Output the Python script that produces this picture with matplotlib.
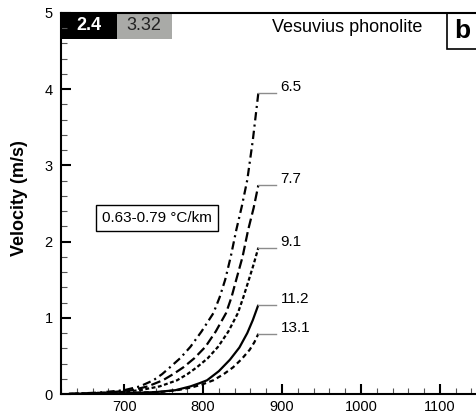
import matplotlib
matplotlib.use("Agg")
import matplotlib.pyplot as plt
from matplotlib.patches import Rectangle
from matplotlib.ticker import MultipleLocator

plt.rcParams['font.family'] = ['Liberation Sans', 'DejaVu Sans']
plt.rcParams['lines.scale_dashes'] = False

# Data (temperature in deg C, velocity in m/s)
labels = ["6.5", "7.7", "9.1", "11.2", "13.1"]
temp_65 = [630, 670, 700, 720, 737, 748, 758, 771, 784, 798, 813, 821, 828,
           835, 842, 849, 856, 863, 870]
vel_65 = [0.0, 0.02, 0.05, 0.10, 0.18, 0.26, 0.35, 0.47, 0.62, 0.82, 1.06,
          1.27, 1.50, 1.80, 2.15, 2.46, 2.81, 3.33, 3.95]
temp_77 = [630, 680, 710, 730, 749, 762, 775, 789, 803, 816, 829, 836, 842,
           850, 857, 864, 870]
vel_77 = [0.0, 0.02, 0.05, 0.10, 0.18, 0.26, 0.35, 0.47, 0.62, 0.82, 1.06,
          1.27, 1.50, 1.80, 2.15, 2.44, 2.74]
temp_91 = [630, 690, 720, 745, 767, 780, 792, 806, 819, 832, 844, 851, 858,
           864, 870]
vel_91 = [0.0, 0.02, 0.05, 0.10, 0.18, 0.26, 0.35, 0.47, 0.62, 0.82, 1.06,
          1.27, 1.50, 1.70, 1.92]
temp_112 = [630, 700, 740, 765, 784, 795, 805, 820, 834, 846, 856, 863, 870]
vel_112 = [0.0, 0.01, 0.025, 0.05, 0.10, 0.14, 0.18, 0.30, 0.45, 0.61, 0.80,
           0.97, 1.17]
temp_131 = [630, 700, 750, 770, 787, 800, 813, 826, 838, 849, 859, 865, 870]
vel_131 = [0.0, 0.01, 0.03, 0.055, 0.09, 0.13, 0.18, 0.26, 0.35, 0.46, 0.58,
           0.68, 0.79]

x_ticks = [700, 800, 900, 1000, 1100]
y_ticks = [0, 1, 2, 3, 4, 5]

series = [
    (temp_65, vel_65, (0, (6, 3, 1.5, 3))),
    (temp_77, vel_77, (0, (7, 3))),
    (temp_91, vel_91, (0, (2.8, 1.8))),
    (temp_112, vel_112, "-"),
    (temp_131, vel_131, (0, (3.5, 2.5))),
]

fig = plt.figure(figsize=(4.77, 4.15), dpi=100)
ax = fig.add_axes([61 / 477, 1 - 394 / 415, 416 / 477, 381 / 415])

for (t, v, ls), lab in zip(series, labels):
    ax.plot(t, v, color="black", lw=1.6, linestyle=ls, solid_capstyle="butt",
            solid_joinstyle="round")
    # gray leader and label at curve end
    ax.plot([t[-1], t[-1] + 22], [v[-1], v[-1]], color="#8c8c8c", lw=1.0)
    ax.text(t[-1] + 28, v[-1] + 0.08, lab, fontsize=11, va="center", ha="left")

ax.set_xlim(620, 1147)
ax.set_ylim(0, 5)
ax.set_xticks(x_ticks)
ax.set_yticks(y_ticks)
ax.xaxis.set_minor_locator(MultipleLocator(20))
ax.yaxis.set_minor_locator(MultipleLocator(0.2))
ax.tick_params(which="major", direction="in", length=7, width=1.5, labelsize=10.5)
ax.tick_params(which="minor", direction="in", length=4.5, width=0.8, color="#555555")
ax.tick_params(axis="x", pad=4)
ax.tick_params(axis="y", pad=6)
ax.spines["right"].set_visible(False)
for s in ["left", "bottom", "top"]:
    ax.spines[s].set_linewidth(1.5)

ax.set_ylabel("Velocity (m/s)", fontsize=13, fontweight="bold")
ax.yaxis.set_label_coords(-0.08, 0.515)

# header boxes
ax.add_patch(Rectangle((0, 0.9318), 0.1346, 0.0682, transform=ax.transAxes,
                       facecolor="black", edgecolor="none", clip_on=False))
ax.add_patch(Rectangle((0.1346, 0.9318), 0.1322, 0.0682, transform=ax.transAxes,
                       facecolor="#a9aaa7", edgecolor="none", clip_on=False))
ax.text(0.067, 0.966, "2.4", transform=ax.transAxes, color="white",
        fontsize=13, fontweight="bold", ha="center", va="center")
ax.text(0.200, 0.966, "3.32", transform=ax.transAxes, color="#222222",
        fontsize=13, ha="center", va="center")
ax.text(0.507, 0.963, "Vesuvius phonolite", transform=ax.transAxes,
        fontsize=13, ha="left", va="center")
ax.add_patch(Rectangle((0.928, 0.9055), 0.1, 0.0945, transform=ax.transAxes,
                       facecolor="white", edgecolor="black", lw=1.2, clip_on=False))
ax.text(0.946, 0.953, "b", transform=ax.transAxes, fontsize=19,
        fontweight="bold", ha="left", va="center")

ax.text(672, 2.31, "0.63-0.79 \u00b0C/km", fontsize=11, ha="left", va="center",
        bbox=dict(boxstyle="square,pad=0.4", facecolor="white",
                  edgecolor="black", lw=1.0))

fig.savefig("out.png", dpi=100)
